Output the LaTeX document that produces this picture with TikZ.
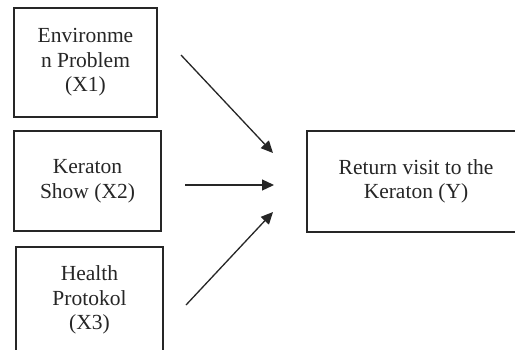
\documentclass[tikz,border=0pt]{standalone}
\usepackage{fontspec}
\setmainfont{Liberation Serif}
\usetikzlibrary{arrows.meta}
\begin{document}
\begin{tikzpicture}[x=1pt,y=-1pt,
  box/.style={draw=black!85, line width=1.5pt, align=center, inner sep=0pt,
    font=\fontsize{21.5}{24.5}\selectfont, text=black!85},
  conn/.style={line width=1.3pt, draw=black!85, -{Triangle[length=12pt,width=11pt]}}]
\clip (0,0) rectangle (515,349);
\fill[white] (0,0) rectangle (515,349);
\node[box, minimum width=143pt, minimum height=109pt] (x1) at (85.5,62.5) {Environme\\n Problem\\(X1)};
\node[box, minimum width=147pt, minimum height=100pt] (x2) at (87.5,181) {Keraton\\Show (X2)};
\node[box, minimum width=147pt, minimum height=106pt] (x3) at (89.5,300) {Health\\Protokol\\(X3)};
\node[box, minimum width=218pt, minimum height=101pt] (y) at (416,181.5) {Return visit to the\\Keraton (Y)};
\coordinate (a1s) at (181,55);
\coordinate (a1e) at (273,153);
\coordinate (a2s) at (185,185);
\coordinate (a2e) at (274,185);
\coordinate (a3s) at (186,305);
\coordinate (a3e) at (273,212);
\draw[conn] (a1s) -- (a1e);
\draw[conn] (a2s) -- (a2e);
\draw[conn] (a3s) -- (a3e);
\end{tikzpicture}
\end{document}
